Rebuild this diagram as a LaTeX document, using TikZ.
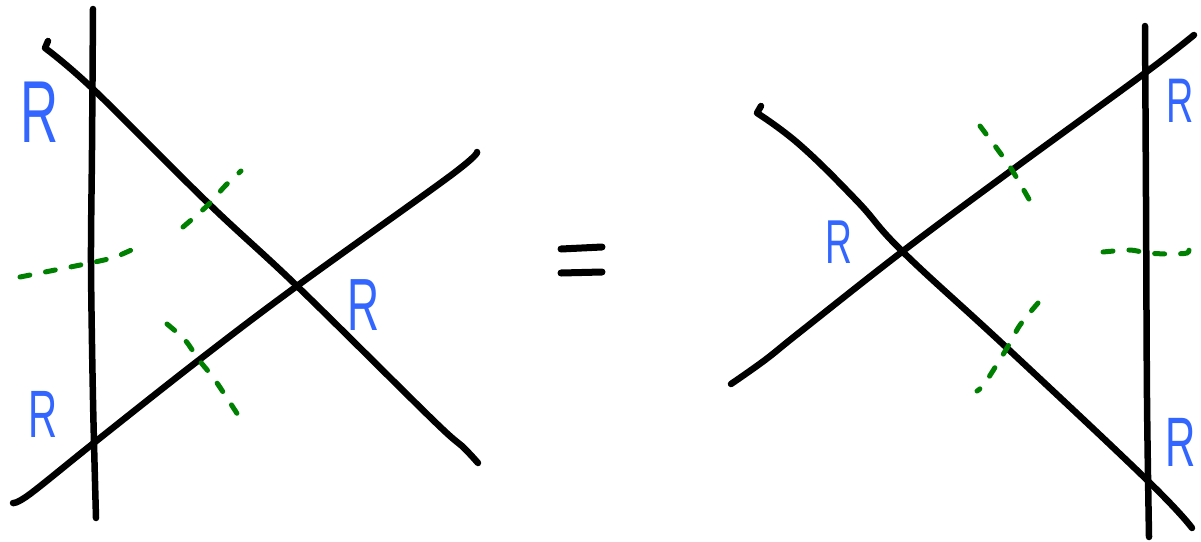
\documentclass[tikz,border=0pt]{standalone}
\usepackage{fontspec}
\newfontfamily\rfont{Liberation Sans}
\definecolor{rblue}{RGB}{51,102,255}
\definecolor{dgreen}{RGB}{0,128,0}
\tikzset{
  strand/.style={line width=6.5pt, line cap=round, line join=round, black},
  cut/.style={line width=5pt, line cap=round, dgreen, dash pattern=on 10pt off 16pt},
  eqbar/.style={line width=7pt, line cap=round, black},
  rlabel/.style={inner sep=0pt, anchor=base west, text=rblue},
}
\newcommand{\rlab}[1]{{\rfont\fontsize{#1}{#1}\selectfont\scalebox{0.6}[1]{R}}}
\begin{document}
\begin{tikzpicture}[x=1pt,y=-1pt]
\useasboundingbox (0,0) rectangle (1201,541);
% ---------- left picture ----------
\draw[strand] plot[smooth] coordinates {(93,9) (92,150) (91,263) (93,400) (96,518)};
\draw[strand] (48,41) -- (45,48) plot[smooth, tension=0.6] coordinates {(45,48) (93,89) (208,203) (297,286) (433,420) (462,446) (478,463)};
\draw[strand] plot[smooth, tension=0.6] coordinates {(13,503) (30,494) (95,442) (199,360) (297,286) (450,176) (477,152)};
\draw[cut] plot[smooth] coordinates {(20,277) (55,270) (90,263) (115,257) (142,245)};
\draw[cut] plot[smooth] coordinates {(183,227) (208,205) (225,186) (241,171)};
\draw[cut] plot[smooth] coordinates {(167,324) (185,340) (199,360) (215,380) (238,415)};
\node[rlabel] (r1) at (20,142) {\rlab{88}};
\node[rlabel] (r2) at (28,437) {\rlab{67}};
\node[rlabel] (r3) at (347,330) {\rlab{74}};
% ---------- equals ----------
\draw[eqbar] (561,249) -- (602,247);
\draw[eqbar] (561,273) -- (602,272);
% ---------- right picture ----------
\draw[strand] plot[smooth] coordinates {(1145,26) (1146,200) (1147,400) (1149,537)};
\draw[strand] (761,106) -- (757,113) plot[smooth, tension=0.7] coordinates {(757,113) (800,145) (857,201) (903,252) (1007,348) (1147,480) (1192,528)};
\draw[strand] plot[smooth, tension=0.6] coordinates {(731,384) (765,360) (800,332) (903,251) (1012,170) (1145,73) (1194,35)};
\draw[cut] plot[smooth] coordinates {(980,126) (998,150) (1012,170) (1030,201)};
\draw[cut] plot[smooth] coordinates {(1038,303) (1020,325) (1007,348) (985,383) (977,391)};
\draw[cut] plot[smooth] coordinates {(1103,252) (1130,250) (1147,253) (1170,254) (1187,253) (1189,248)};
\node[rlabel] (r4) at (825,263) {\rlab{62}};
\node[rlabel] (r5) at (1166,122) {\rlab{63}};
\node[rlabel] (r6) at (1165,466) {\rlab{70}};
\end{tikzpicture}
\end{document}
